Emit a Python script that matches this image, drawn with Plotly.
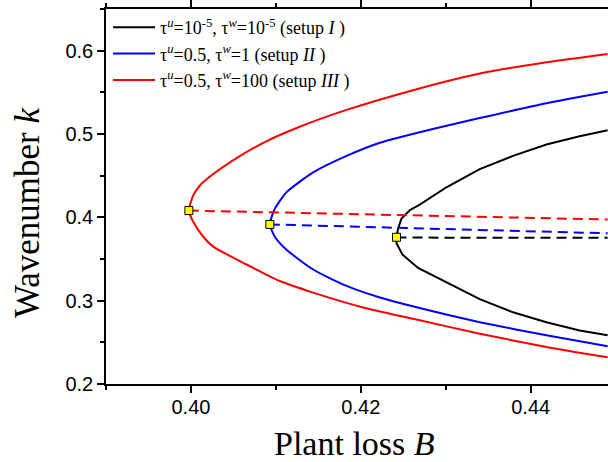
import plotly.graph_objects as go

# ---- data ----
# Setup I (black)
I_vertex_B = [0.42420]
I_vertex_k = [0.3761]
I_upper_B = [0.42439, 0.42479, 0.42576, 0.42694, 0.43008, 0.43400, 0.43792, 0.44185, 0.44576, 0.44906]
I_upper_k = [0.3867, 0.3986, 0.4085, 0.4152, 0.4361, 0.4578, 0.4737, 0.4874, 0.4974, 0.5045]
I_lower_B = [0.42420, 0.42491, 0.42674, 0.43008, 0.43400, 0.43792, 0.44185, 0.44576, 0.44906]
I_lower_k = [0.3690, 0.3552, 0.3393, 0.3216, 0.3019, 0.2860, 0.2742, 0.2643, 0.2584]
I_dash_B = [0.42420, 0.44906]
I_dash_k = [0.3757, 0.3754]

# Setup II (blue)
II_vertex_B = [0.40929]
II_vertex_k = [0.3915]
II_upper_B = [0.40988, 0.41126, 0.41439, 0.41832, 0.42224, 0.42812, 0.43400, 0.44185, 0.44906]
II_upper_k = [0.4104, 0.4302, 0.4539, 0.4737, 0.4895, 0.5052, 0.5191, 0.5369, 0.5507]
II_lower_B = [0.40988, 0.41126, 0.41439, 0.41832, 0.42224, 0.42812, 0.43400, 0.44185, 0.44906]
II_lower_k = [0.3768, 0.3611, 0.3374, 0.3177, 0.3038, 0.2881, 0.2742, 0.2584, 0.2454]
II_dash_B = [0.40929, 0.44906]
II_dash_k = [0.3915, 0.3808]

# Setup III (red)
III_vertex_B = [0.39976]
III_vertex_k = [0.4081]
III_upper_B = [0.40027, 0.40106, 0.40262, 0.40459, 0.40851, 0.41244, 0.41832, 0.42615, 0.43400, 0.44185, 0.44906]
III_upper_k = [0.4263, 0.4382, 0.4519, 0.4660, 0.4894, 0.5072, 0.5289, 0.5526, 0.5726, 0.5862, 0.5961]
III_lower_B = [0.40027, 0.40145, 0.40262, 0.40655, 0.41047, 0.41439, 0.42027, 0.42615, 0.43400, 0.44185, 0.44906]
III_lower_k = [0.3947, 0.3767, 0.3649, 0.3434, 0.3236, 0.3097, 0.2919, 0.2782, 0.2604, 0.2445, 0.2320]
III_dash_B = [0.39976, 0.44906]
III_dash_k = [0.4081, 0.3974]

labels = [
    "τ<sup><i>u</i></sup>=10<sup>-5</sup>, τ<sup><i>w</i></sup>=10<sup>-5</sup> (setup <i>I</i> )",
    "τ<sup><i>u</i></sup>=0.5, τ<sup><i>w</i></sup>=1 (setup <i>II</i> )",
    "τ<sup><i>u</i></sup>=0.5, τ<sup><i>w</i></sup>=100 (setup <i>III</i> )",
]
colors = ["#000000", "#0000ff", "#ff0000"]
shapes = ["linear", "spline", "spline"]

setups = [
    (I_vertex_B, I_vertex_k, I_upper_B, I_upper_k, I_lower_B, I_lower_k, I_dash_B, I_dash_k),
    (II_vertex_B, II_vertex_k, II_upper_B, II_upper_k, II_lower_B, II_lower_k, II_dash_B, II_dash_k),
    (III_vertex_B, III_vertex_k, III_upper_B, III_upper_k, III_lower_B, III_lower_k, III_dash_B, III_dash_k),
]

fig = go.Figure()

for (vB, vk, uB, uk, lB, lk, dB, dk), lab, col, shp in zip(setups, labels, colors, shapes):
    xs = list(reversed(lB)) + vB + uB
    ys = list(reversed(lk)) + vk + uk
    fig.add_trace(go.Scatter(x=xs, y=ys, mode="lines", name=lab,
                             line=dict(color=col, width=2, shape=shp, smoothing=0.6)))
for (vB, vk, uB, uk, lB, lk, dB, dk), col in zip(setups, colors):
    fig.add_trace(go.Scatter(x=dB, y=dk, mode="lines", showlegend=False,
                             line=dict(color=col, width=2, dash="10px,6px")))
for (vB, vk, uB, uk, lB, lk, dB, dk) in setups:
    fig.add_trace(go.Scatter(x=vB, y=vk, mode="markers", showlegend=False,
                             marker=dict(symbol="square", size=8, color="#ffff00",
                                         line=dict(color="#000000", width=1))))

axis_common = dict(
    showgrid=False, zeroline=False,
    showline=True, linecolor="black", linewidth=1.5,
    ticks="outside", ticklen=7, tickwidth=1.5, tickcolor="black",
    tickfont=dict(family="Liberation Sans", size=20, color="black"),
)

fig.update_xaxes(range=[0.39, 0.4491], dtick=0.02, tick0=0.40, tickformat=".2f",
                 mirror="ticks", ticklabelstandoff=-3,
                 minor=dict(ticks="outside", ticklen=4, tickwidth=1.5, tickcolor="black",
                            dtick=0.01, tick0=0.39),
                 **axis_common)
fig.update_yaxes(range=[0.2, 0.65], dtick=0.1, tick0=0.2, tickformat=".1f",
                 minor=dict(ticks="outside", ticklen=4, tickwidth=1.5, tickcolor="black",
                            dtick=0.05, tick0=0.2),
                 **axis_common)

fig.add_annotation(text="Plant loss <i>B</i>", xref="paper", yref="paper",
                   x=0.496, y=-0.158, xanchor="center", yanchor="middle", showarrow=False,
                   font=dict(family="Liberation Serif", size=34, color="black"))
fig.add_annotation(text="Wavenumber <i>k</i>", xref="paper", yref="paper",
                   x=-0.155, y=0.4565, xanchor="center", yanchor="middle", showarrow=False,
                   textangle=-90,
                   font=dict(family="Liberation Serif", size=35, color="black"))

fig.update_layout(
    width=608, height=462,
    margin=dict(l=106, r=0, t=5, b=78),
    plot_bgcolor="white", paper_bgcolor="white",
    legend=dict(x=0.004, y=1.0, xanchor="left", yanchor="top",
                bgcolor="rgba(0,0,0,0)", borderwidth=0, itemwidth=42,
                font=dict(family="Liberation Serif", size=18, color="black")),
)

fig.write_html("out.html")
